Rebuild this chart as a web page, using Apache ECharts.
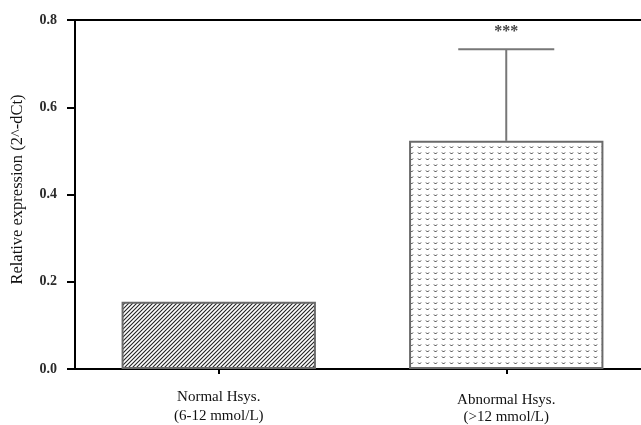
<!DOCTYPE html>
<html><head><meta charset="utf-8">
<script src="https://cdn.jsdelivr.net/npm/echarts@6/dist/echarts.min.js"></script>
<style>html,body{margin:0;padding:0;background:#fff}#c{width:641px;height:425px}</style>
</head><body><div id="c"></div>
<script>
var categories = ['Normal Hsys.\n(6-12 mmol/L)', 'Abnormal Hsys.\n(>12 mmol/L)'];
var means = [0.154, 0.523];
var errorUpper = [null, 0.733];
var significance = ['', '***'];
var yTicks = [0, 0.2, 0.4, 0.6, 0.8];

function makeHatch() {
  var c = document.createElement('canvas'); c.width = 4; c.height = 4;
  var g = c.getContext('2d');
  g.fillStyle = '#fff'; g.fillRect(0, 0, 4, 4);
  g.strokeStyle = '#222'; g.lineWidth = 1.1;
  g.beginPath();
  g.moveTo(-1, 5); g.lineTo(5, -1);
  g.moveTo(-1, 1); g.lineTo(1, -1);
  g.moveTo(3, 5); g.lineTo(5, 3);
  g.stroke();
  return c;
}
function makeDots() {
  var c = document.createElement('canvas'); c.width = 8; c.height = 6;
  var g = c.getContext('2d');
  g.fillStyle = '#fff'; g.fillRect(0, 0, 8, 6);
  g.strokeStyle = '#333'; g.lineWidth = 1;
  g.beginPath();
  g.moveTo(2, 2.5); g.lineTo(3.5, 4); g.lineTo(5, 2.5);
  g.stroke();
  return c;
}
var patterns = [makeHatch(), makeDots()];

var chart = echarts.init(document.getElementById('c'));
var serif = '"Liberation Serif", "Times New Roman", serif';
chart.setOption({
  animation: false,
  grid: { left: 75, top: 20, width: 575, bottom: 56, outerBoundsMode: 'none', containLabel: false },
  xAxis: [{
    type: 'category', position: 'bottom',
    data: categories.map(function (c, i) {
      return i === 1 ? { value: c, textStyle: { padding: [4, 0, 0, 0], lineHeight: 17 } } : c;
    }),
    axisLine: { lineStyle: { color: '#000', width: 2 } },
    axisTick: { show: true, alignWithLabel: true, length: 5, lineStyle: { color: '#000', width: 2 }, interval: 0 },
    axisLabel: { fontFamily: serif, fontSize: 15, color: '#111', margin: 19, lineHeight: 19, interval: 0 }
  }, {
    type: 'category', data: categories, position: 'top',
    axisLine: { show: true, lineStyle: { color: '#000', width: 2 } },
    axisTick: { show: false }, axisLabel: { show: false }
  }],
  yAxis: {
    type: 'value', min: 0, max: 0.8, interval: 0.2,
    name: 'Relative expression (2^-dCt)', nameLocation: 'middle', nameGap: 49,
    nameTextStyle: { fontFamily: serif, fontSize: 16.5, color: '#111', padding: [0, 0, 0, 10] },
    axisLine: { show: true, lineStyle: { color: '#000', width: 2 } },
    axisTick: { show: true, length: 8, lineStyle: { color: '#000', width: 2 } },
    splitLine: { show: false },
    axisLabel: { fontFamily: serif, fontSize: 14, fontWeight: 'bold', color: '#2a2a2a', margin: 18,
      formatter: function (v) { return v.toFixed(1); } }
  },
  series: [{
    type: 'bar', barWidth: '67.6%',
    data: means.map(function (v, i) {
      return { value: v, itemStyle: { color: { image: patterns[i], repeat: 'repeat' }, borderColor: '#6a6a6a', borderWidth: 2 } };
    })
  }, {
    type: 'custom',
    data: means.map(function (v, i) { return [i, v, errorUpper[i], significance[i]]; }),
    renderItem: function (params, api) {
      var i = api.value(0);
      var up = api.value(2);
      if (up == null || isNaN(up)) return null;
      var p0 = api.coord([i, api.value(1)]);
      var p1 = api.coord([i, up]);
      var half = api.size([1, 0])[0] * 0.167;
      return { type: 'group', children: [
        { type: 'line', shape: { x1: p0[0], y1: p0[1], x2: p1[0], y2: p1[1] }, style: { stroke: '#777', lineWidth: 2 } },
        { type: 'line', shape: { x1: p1[0] - half, y1: p1[1], x2: p1[0] + half, y2: p1[1] }, style: { stroke: '#777', lineWidth: 2 } },
        { type: 'text', x: p1[0], y: p1[1] - 17, style: { text: significance[i], fill: '#444', font: 'bold 16px ' + serif, align: 'center', verticalAlign: 'middle' } }
      ] };
    },
    z: 3
  }]
});
</script></body></html>
